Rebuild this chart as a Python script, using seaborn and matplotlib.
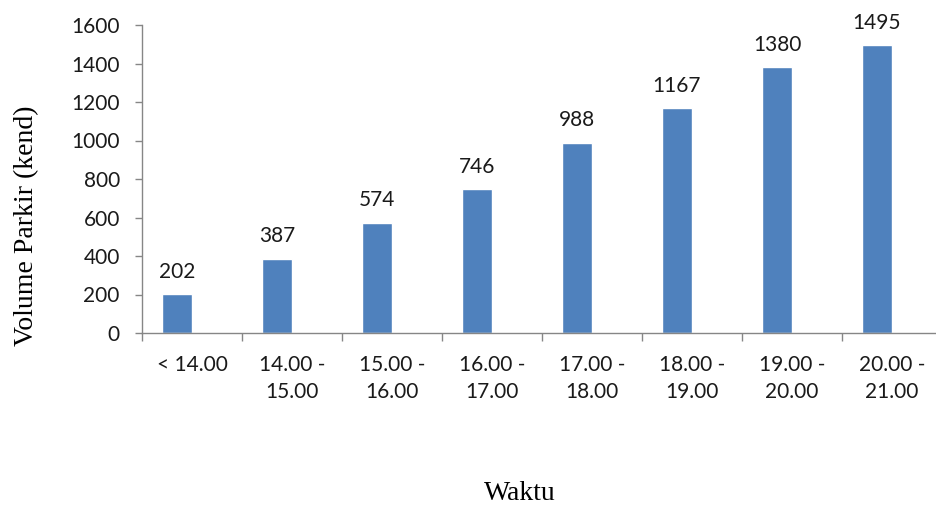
import matplotlib.pyplot as plt
import seaborn as sns
import pandas as pd
from matplotlib.ticker import FixedLocator

# data
waktu = ["< 14.00", "14.00 -\n15.00", "15.00 -\n16.00", "16.00 -\n17.00",
         "17.00 -\n18.00", "18.00 -\n19.00", "19.00 -\n20.00", "20.00 -\n21.00"]
volume = [202, 387, 574, 746, 988, 1167, 1380, 1495]

# Excel chart had an empty second series, so bars sit left of centre
df = pd.DataFrame({"Waktu": waktu + waktu,
                   "Volume": volume + [None] * len(waktu),
                   "Seri": ["Volume"] * len(waktu) + ["Kosong"] * len(waktu)})

sns.set_theme(style="white")
plt.rcParams["font.family"] = ["Lato", "DejaVu Sans"]

fig = plt.figure(figsize=(9.37, 5.07), dpi=100)
ax = fig.add_axes([142 / 937, 174 / 507, 800 / 937, 308 / 507])

sns.barplot(data=df, x="Waktu", y="Volume", hue="Seri", hue_order=["Volume", "Kosong"],
            order=waktu, palette=["#4F81BD", "#4F81BD"], width=0.6, dodge=True,
            saturation=1, legend=False, ax=ax)

ax.bar_label(ax.containers[0], labels=[str(v) for v in volume], padding=9,
             fontsize=15, color="#1a1a1a")

ax.set_xlim(-0.5, len(waktu) - 0.5)
ax.set_ylim(0, 1600)
ax.set_yticks(range(0, 1601, 200))

# Excel-style tick marks between categories
ax.xaxis.set_minor_locator(FixedLocator([i - 0.5 for i in range(len(waktu) + 1)]))
ax.tick_params(axis="x", which="major", length=0, pad=16, labelsize=15, labelcolor="#1a1a1a")
ax.tick_params(axis="x", which="minor", length=6, width=1, color="#868686", direction="out", bottom=True)
ax.tick_params(axis="y", which="major", length=5, width=1, color="#868686", direction="out",
               left=True, labelsize=15, labelcolor="#1a1a1a", pad=11)
for lbl in ax.get_xticklabels():
    lbl.set_linespacing(1.45)

for side in ["top", "right"]:
    ax.spines[side].set_visible(False)
for side in ["left", "bottom"]:
    ax.spines[side].set_color("#868686")
    ax.spines[side].set_linewidth(1)

ax.set_ylabel("Volume Parkir (kend)", family="Liberation Serif", fontsize=20, color="black")
ax.yaxis.set_label_coords(-0.128, 0.347)
ax.set_xlabel("")
fig.text(520 / 937, 1 - 493 / 507, "Waktu", family="Liberation Serif", fontsize=20,
         ha="center", va="center", color="black")

fig.savefig("out.png", dpi=100, facecolor="white")
